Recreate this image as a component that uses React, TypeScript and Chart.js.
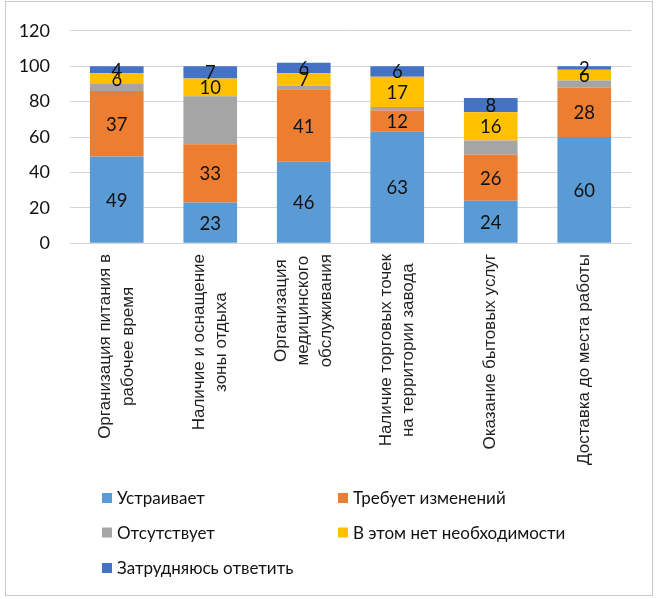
import React, { useEffect, useRef } from 'react';
import { Chart, registerables } from 'chart.js';

Chart.register(...registerables);

const categories: string[][] = [
  ['Организация питания в', 'рабочее время'],
  ['Наличие и оснащение', 'зоны отдыха'],
  ['Организация', 'медицинского', 'обслуживания'],
  ['Наличие торговых точек', 'на территории завода'],
  ['Оказание бытовых услуг'],
  ['Доставка до места работы'],
];

const seriesNames = [
  'Устраивает',
  'Требует изменений',
  'Отсутствует',
  'В этом нет необходимости',
  'Затрудняюсь ответить',
];

const satisfied = [49, 23, 46, 63, 24, 60];
const needsChange = [37, 33, 41, 12, 26, 28];
const absent = [4, 27, 2, 2, 8, 4];
const notNeeded = [6, 10, 7, 17, 16, 6];
const hardToSay = [4, 7, 6, 6, 8, 2];

const seriesColors = ['#5B9BD5', '#ED7D31', '#A5A5A5', '#FFC000', '#4472C4'];
const labelledSeries = [true, true, false, true, true];

const yMin = 0;
const yMax = 120;
const yStep = 20;

const dataLabelPlugin = {
  id: 'segmentLabels',
  afterDatasetsDraw(chart: any) {
    const ctx = chart.ctx;
    ctx.save();
    ctx.font = '18.5px Lato';
    ctx.fillStyle = '#111111';
    ctx.textAlign = 'center';
    ctx.textBaseline = 'middle';
    chart.data.datasets.forEach((ds: any, di: number) => {
      if (!labelledSeries[di]) return;
      const meta = chart.getDatasetMeta(di);
      meta.data.forEach((el: any, i: number) => {
        const { x, y, base } = el.getProps(['x', 'y', 'base'], true);
        ctx.fillText(String(ds.data[i]), x, (y + base) / 2 + 1);
      });
    });
    ctx.restore();
  },
};

const categoryLabelPlugin = {
  id: 'categoryLabels',
  afterDraw(chart: any) {
    const ctx = chart.ctx;
    const xs = chart.scales.x;
    const top = 254;
    const lineGap = 22.5;
    ctx.save();
    ctx.font = '17px "Liberation Sans"';
    ctx.fillStyle = '#1f1f1f';
    ctx.textAlign = 'center';
    ctx.textBaseline = 'middle';
    (chart.data.labels as string[][]).forEach((lines, i) => {
      const cx = xs.getPixelForValue(i);
      const maxW = Math.max(...lines.map((l) => ctx.measureText(l).width));
      const n = lines.length;
      lines.forEach((line, li) => {
        const lx = cx + (li - (n - 1) / 2) * lineGap;
        ctx.save();
        ctx.translate(lx, top + maxW / 2);
        ctx.rotate(-Math.PI / 2);
        ctx.fillText(line, 0, 0);
        ctx.restore();
      });
    });
    ctx.restore();
  },
};

const legendPlugin = {
  id: 'gridLegend',
  afterDraw(chart: any) {
    const ctx = chart.ctx;
    const colX = [102, 338];
    const rowY = [498, 532.5, 568];
    ctx.save();
    ctx.font = '17px Lato';
    ctx.textBaseline = 'middle';
    ctx.textAlign = 'left';
    chart.data.datasets.forEach((ds: any, i: number) => {
      const x = colX[i % 2];
      const y = rowY[Math.floor(i / 2)];
      ctx.fillStyle = ds.backgroundColor;
      ctx.fillRect(x, y - 5, 10, 10);
      ctx.fillStyle = '#111111';
      ctx.fillText(ds.label, x + 15, y + 1);
    });
    ctx.restore();
  },
};

export default function App() {
  const canvasRef = useRef<HTMLCanvasElement | null>(null);

  useEffect(() => {
    if (!canvasRef.current) return;
    const values = [satisfied, needsChange, absent, notNeeded, hardToSay];
    const chart = new Chart(canvasRef.current, {
      type: 'bar',
      data: {
        labels: categories as any,
        datasets: values.map((v, i) => ({
          label: seriesNames[i],
          data: v,
          backgroundColor: seriesColors[i],
          borderWidth: 0,
          barPercentage: 0.574,
          categoryPercentage: 1,
        })),
      },
      options: {
        responsive: false,
        animation: false,
        devicePixelRatio: 1,
        layout: { padding: { top: 25, right: 28, left: 0, bottom: 0 } },
        plugins: {
          legend: { display: false },
          tooltip: { enabled: false },
          title: { display: false },
        },
        scales: {
          x: {
            stacked: true,
            grid: { display: false },
            border: { display: false },
            ticks: { display: false },
            afterFit(scale: any) {
              scale.height = 355.7;
            },
          },
          y: {
            stacked: true,
            min: yMin,
            max: yMax,
            ticks: {
              stepSize: yStep,
              padding: 20,
              color: '#111111',
              font: { family: 'Lato', size: 18 },
            },
            grid: { color: '#d4d4d4', drawTicks: false, lineWidth: 1 },
            border: { display: false },
            afterFit(scale: any) {
              scale.width = 70;
            },
          },
        },
      },
      plugins: [dataLabelPlugin, categoryLabelPlugin, legendPlugin],
    });
    return () => chart.destroy();
  }, []);

  return (
    <div style={{ position: 'absolute', left: 0, top: 0, width: 659, height: 599, background: '#fff' }}>
      <div
        style={{
          position: 'absolute',
          left: 5,
          top: 1,
          width: 646,
          height: 593,
          border: '1px solid #c9c9c9',
        }}
      />
      <canvas
        ref={canvasRef}
        width={659}
        height={599}
        style={{ position: 'absolute', left: 0, top: 0, width: 659, height: 599 }}
      />
    </div>
  );
}
